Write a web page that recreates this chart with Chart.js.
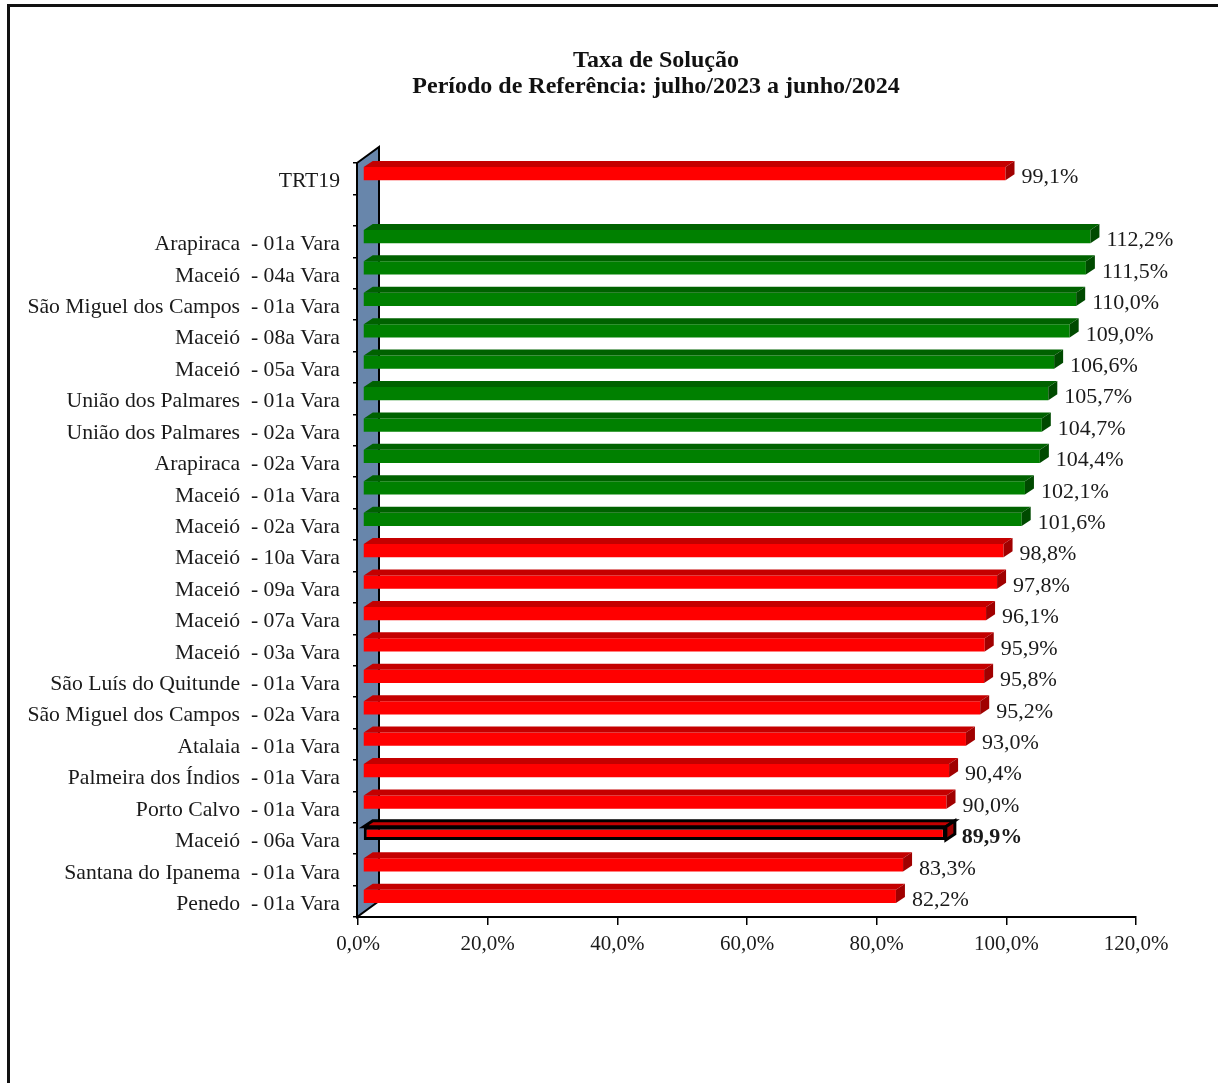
<!DOCTYPE html>
<html lang="pt-BR">
<head>
<meta charset="utf-8">
<title>Taxa de Solução</title>
<script src="https://cdn.jsdelivr.net/npm/chart.js@4.4.1/dist/chart.umd.min.js"></script>
<style>
  html, body { margin: 0; padding: 0; background: #fff; overflow: hidden; }
  #wrap { position: relative; width: 1218px; height: 1083px; }
  #frame {
    position: absolute; left: 7px; top: 4px; width: 1300px; height: 1200px;
    border-top: 3px solid #111; border-left: 3px solid #111;
  }
  canvas { position: absolute; left: 0; top: 0; }
</style>
</head>
<body>
<div id="wrap">
  <div id="frame"></div>
  <canvas id="grafico" width="1218" height="1083"></canvas>
</div>
<script>
/* ======================================================
   Dados
====================================================== */
const TITULO = ['Taxa de Solução', 'Período de Referência: julho/2023 a junho/2024'];

const varas = [
  'TRT19',
  '',
  'Arapiraca  - 01a Vara',
  'Maceió  - 04a Vara',
  'São Miguel dos Campos  - 01a Vara',
  'Maceió  - 08a Vara',
  'Maceió  - 05a Vara',
  'União dos Palmares  - 01a Vara',
  'União dos Palmares  - 02a Vara',
  'Arapiraca  - 02a Vara',
  'Maceió  - 01a Vara',
  'Maceió  - 02a Vara',
  'Maceió  - 10a Vara',
  'Maceió  - 09a Vara',
  'Maceió  - 07a Vara',
  'Maceió  - 03a Vara',
  'São Luís do Quitunde  - 01a Vara',
  'São Miguel dos Campos  - 02a Vara',
  'Atalaia  - 01a Vara',
  'Palmeira dos Índios  - 01a Vara',
  'Porto Calvo  - 01a Vara',
  'Maceió  - 06a Vara',
  'Santana do Ipanema  - 01a Vara',
  'Penedo  - 01a Vara'
];

const taxas = [
  99.1, null,
  112.2, 111.5, 110.0, 109.0, 106.6, 105.7, 104.7, 104.4, 102.1, 101.6,
  98.8, 97.8, 96.1, 95.9, 95.8, 95.2, 93.0, 90.4, 90.0, 89.9, 83.3, 82.2
];

const ticksX = [0, 20, 40, 60, 80, 100, 120];

const DESTAQUE = 'Maceió  - 06a Vara';
const META = 100;

/* ======================================================
   Estilo
====================================================== */
const FONTE = "'Liberation Serif', 'Times New Roman', serif";

const CORES = {
  abaixo: { frente: '#ff0000', topo: '#c40000', lado: '#a00000' },
  acima:  { frente: '#008000', topo: '#006200', lado: '#004a00' }
};

const PROF = { dx: 9, dy: 6 };       // profundidade das barras
const DESLOC = { x: 5, y: 5 };       // barras recuadas no "fundo"
const PAREDE = { dx: 22, dy: 16, cor: '#6886ab' };
const TITULO_POS = { x: 656, y: 61, linha: 26 };

const fmt = v => v.toFixed(1).replace('.', ',') + '%';
const corDe = v => (v >= META ? CORES.acima : CORES.abaixo);

function poly(ctx, pts, fill, stroke, lw) {
  ctx.beginPath();
  ctx.moveTo(pts[0][0], pts[0][1]);
  for (let i = 1; i < pts.length; i++) ctx.lineTo(pts[i][0], pts[i][1]);
  ctx.closePath();
  if (fill) { ctx.fillStyle = fill; ctx.fill(); }
  if (stroke) { ctx.strokeStyle = stroke; ctx.lineWidth = lw; ctx.lineJoin = 'miter'; ctx.stroke(); }
}

/* ======================================================
   Plugin 3D (parede + faces + rótulos + título)
====================================================== */
const barras3d = {
  id: 'barras3d',
  beforeDatasetsDraw(chart) {
    const { ctx, chartArea: a } = chart;
    const x0 = a.left - 1;
    ctx.save();
    poly(ctx, [
      [x0, a.top], [x0 + PAREDE.dx, a.top - PAREDE.dy],
      [x0 + PAREDE.dx, a.bottom - PAREDE.dy], [x0, a.bottom]
    ], PAREDE.cor, '#000', 2);
    ctx.restore();

    ctx.save();
    ctx.translate(DESLOC.x, -DESLOC.y);
  },
  afterDatasetsDraw(chart) {
    const { ctx } = chart;
    const meta = chart.getDatasetMeta(0);

    meta.data.forEach((bar, i) => {
      const v = taxas[i];
      if (v == null) return;
      const { x, y, base, height } = bar.getProps(['x', 'y', 'base', 'height'], true);
      const top = y - height / 2;
      const bottom = y + height / 2;
      const cor = corDe(v);
      const dest = varas[i] === DESTAQUE;
      const stroke = dest ? '#000' : null;

      poly(ctx, [
        [base, top], [x, top], [x + PROF.dx, top - PROF.dy], [base + PROF.dx, top - PROF.dy]
      ], cor.topo, stroke, 3);
      poly(ctx, [
        [x, top], [x + PROF.dx, top - PROF.dy], [x + PROF.dx, bottom - PROF.dy], [x, bottom]
      ], cor.lado, stroke, 3);

      ctx.fillStyle = '#1a1a1a';
      ctx.font = (dest ? 'bold ' : '') + '22px ' + FONTE;
      ctx.textAlign = 'left';
      ctx.textBaseline = 'middle';
      ctx.fillText(fmt(v), x + PROF.dx + 7, y + 4);
    });

    ctx.restore();
  },
  afterDraw(chart) {
    const { ctx } = chart;
    ctx.save();
    ctx.fillStyle = '#111';
    ctx.font = 'bold 24px ' + FONTE;
    ctx.textAlign = 'center';
    ctx.textBaseline = 'middle';
    TITULO.forEach((t, i) => ctx.fillText(t, TITULO_POS.x, TITULO_POS.y + i * TITULO_POS.linha));
    ctx.restore();
  }
};

/* ======================================================
   Gráfico
====================================================== */
Chart.defaults.font.family = FONTE;
Chart.defaults.color = '#1a1a1a';

new Chart(document.getElementById('grafico'), {
  type: 'bar',
  data: {
    labels: varas,
    datasets: [{
      data: taxas,
      backgroundColor: taxas.map(v => (v == null ? 'transparent' : corDe(v).frente)),
      borderColor: varas.map(n => (n === DESTAQUE ? '#000' : 'transparent')),
      borderWidth: varas.map(n => (n === DESTAQUE ? 3 : 0)),
      borderSkipped: false,
      barPercentage: 0.42,
      categoryPercentage: 1
    }]
  },
  options: {
    indexAxis: 'y',
    responsive: false,
    animation: false,
    layout: { padding: { left: 0, right: 82, top: 163, bottom: 116 } },
    plugins: {
      legend: { display: false },
      tooltip: { enabled: false },
      title: { display: false }
    },
    scales: {
      x: {
        min: 0,
        max: 120,
        afterBuildTicks: s => { s.ticks = ticksX.map(v => ({ value: v })); },
        afterFit: s => { s.height = 50; },
        border: { display: true, color: '#000', width: 2 },
        grid: { drawOnChartArea: false, drawTicks: true, tickLength: 8, color: '#000', lineWidth: 1.5 },
        ticks: {
          padding: 7,
          color: '#1a1a1a',
          font: { size: 21 },
          maxRotation: 0,
          callback: v => fmt(v)
        }
      },
      y: {
        afterFit: s => { s.width = 358; },
        border: { display: true, color: '#000', width: 2 },
        grid: { drawOnChartArea: false, drawTicks: true, tickLength: 5, color: '#000', lineWidth: 1.5, offset: true },
        ticks: {
          padding: 13,
          labelOffset: 3,
          autoSkip: false,
          color: '#1a1a1a',
          font: { size: 21.7 }
        }
      }
    }
  },
  plugins: [barras3d]
});
</script>
</body>
</html>
